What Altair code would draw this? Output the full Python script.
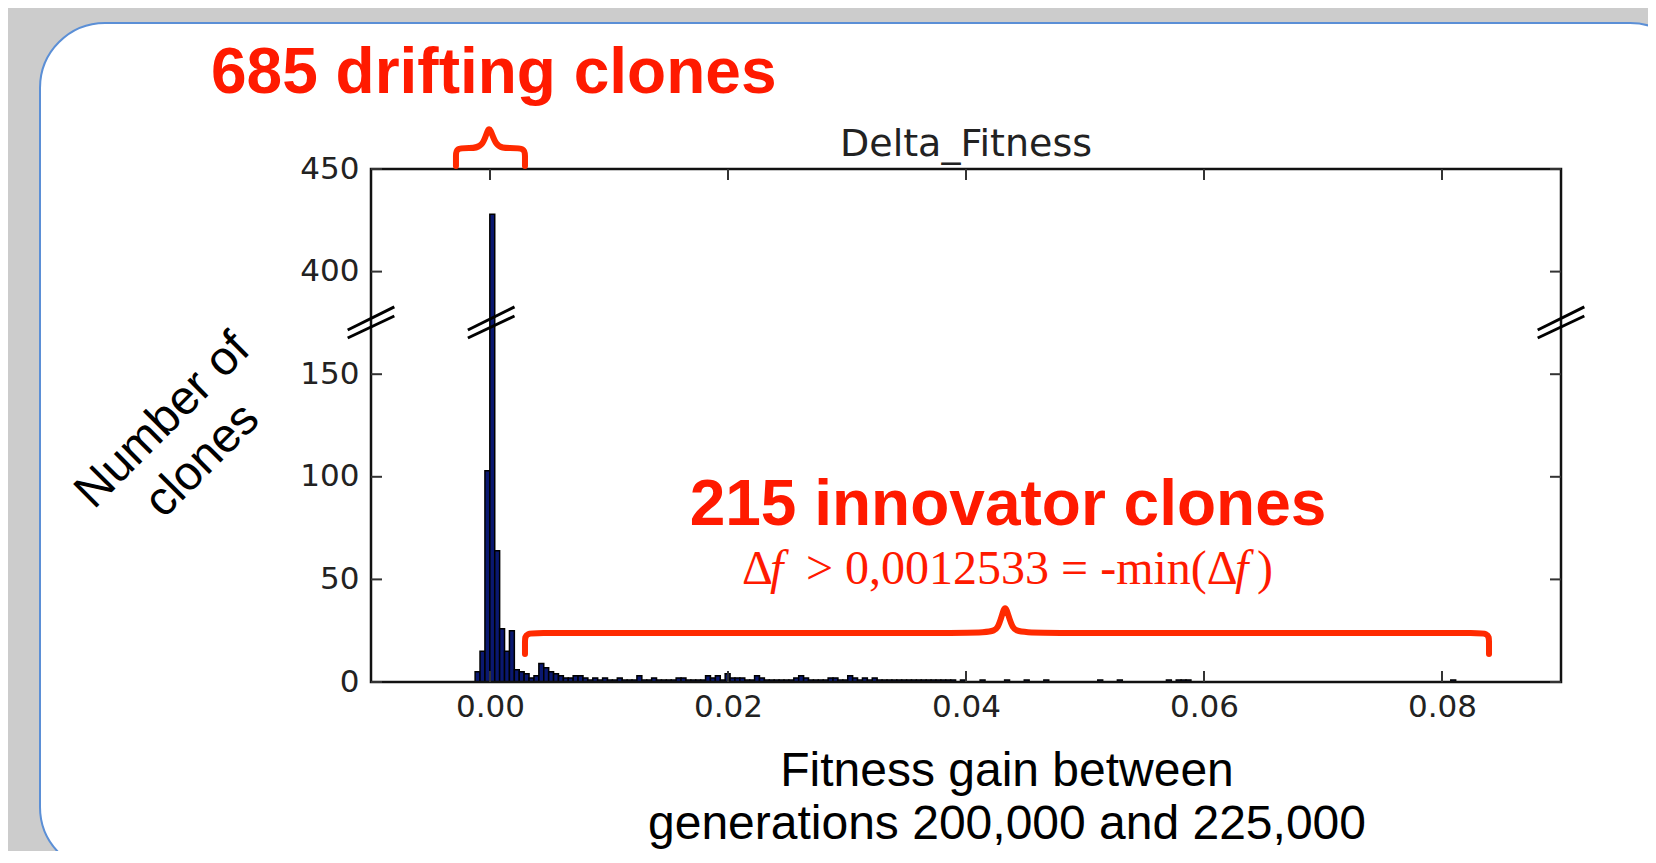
import altair as alt
import pandas as pd

# ---------------- data ----------------
BIN_START = -0.00125      # left edge of first histogram bin (≈ min Δf)
BIN_WIDTH = 0.000412      # histogram bin width
bin_index = [0, 1, 2, 3, 4, 5, 6, 7, 8, 9, 10, 11, 12, 13, 14, 15, 16, 17, 18, 19,
             20, 21, 22, 23, 24, 25, 26, 27, 28, 29, 30, 31, 32, 33, 34, 35, 36, 37, 38, 39,
             40, 41, 42, 43, 44, 45, 46, 47, 48, 49, 50, 51, 52, 53, 54, 55, 56, 57, 58, 59,
             60, 61, 62, 63, 64, 65, 66, 67, 68, 69, 70, 71, 72, 73, 74, 75, 76, 77, 78, 79,
             80, 81, 82, 83, 84, 85, 86, 87, 88, 89, 90, 91, 92, 93, 94, 95, 96, 97, 99, 103,
             108, 112, 116, 127, 131, 141, 143, 144, 145, 199]
bin_count = [5, 15, 103, 428, 64, 26, 15, 25, 6, 5, 4, 2, 3, 9, 7, 5, 4, 3, 2, 2,
             3, 3, 2, 1, 2, 1, 2, 1, 1, 2, 1, 1, 1, 3, 1, 1, 2, 1, 1, 1,
             1, 2, 2, 1, 1, 1, 1, 3, 2, 3, 1, 4, 2, 2, 2, 1, 1, 3, 2, 1,
             1, 1, 1, 1, 1, 2, 3, 2, 1, 1, 1, 1, 2, 2, 1, 1, 3, 2, 1, 2,
             1, 2, 1, 1, 1, 1, 1, 1, 1, 1, 1, 1, 1, 1, 1, 1, 1, 1, 1, 1,
             1, 1, 1, 1, 1, 1, 1, 1, 1, 1]

x_ticks = [0.0, 0.02, 0.04, 0.06, 0.08]
y_ticks = [0, 50, 100, 150, 400, 450]
x_domain = [-0.01, 0.09]
y_domain = [0, 150, 400, 450]          # broken axis: 150..400 compressed

# axis-break "//" marks: centre Δf, and the two strokes' y ends (counts)
break_x = [-0.01, 0.0001, 0.09]
break_half = 0.00196
break_y1 = [257.7, 314.0]
break_y2 = [238.2, 291.8]

# curly braces (control points in data units)
brace_top_x = [-0.00286, -0.00286, -0.00286, -0.0018, -0.0005, -0.00008, 0.0004, 0.0017, 0.00294, 0.00294, 0.00294]
brace_top_y = [451.5, 456.5, 460.2, 460.2, 460.2, 474.0, 460.2, 460.2, 460.2, 456.5, 451.5]
brace_bot_x = [0.00294, 0.00294, 0.00294, 0.0045, 0.0415, 0.0428, 0.04328, 0.0438, 0.0451, 0.0824, 0.08395, 0.08395, 0.08395]
brace_bot_y = [13.6, 20.0, 23.9, 23.9, 23.9, 23.9, 42.0, 23.9, 23.9, 23.9, 23.9, 20.0, 13.6]

# ---------------- layout ----------------
W, H = 1190, 513
UNIT = H / 250.0
y_range = [H, H - 150 * UNIT, H - 200 * UNIT, 0]

xscale = alt.Scale(domain=x_domain, nice=False, zero=False)
yscale = alt.Scale(domain=y_domain, range=y_range, nice=False, zero=False)

RED = "#ff1a00"
BRACE = "#ff2a00"

df_bars = pd.DataFrame({
    "left": [BIN_START + i * BIN_WIDTH for i in bin_index],
    "count": bin_count,
})
df_bars["right"] = df_bars["left"] + BIN_WIDTH

df_xt = pd.DataFrame({"v": x_ticks})
df_yt = pd.DataFrame({"v": y_ticks})
df_one = pd.DataFrame({"a": [0]})

rows = []
for xc in break_x:
    rows.append({"x1": xc - break_half, "x2": xc + break_half, "y1": break_y1[0], "y2": break_y1[1]})
    rows.append({"x1": xc - break_half, "x2": xc + break_half, "y1": break_y2[0], "y2": break_y2[1]})
df_break = pd.DataFrame(rows)

brace_rows = []
for i, (bx, by) in enumerate(zip(brace_top_x, brace_top_y)):
    brace_rows.append({"b": "top", "o": i, "x": bx, "y": by})
for i, (bx, by) in enumerate(zip(brace_bot_x, brace_bot_y)):
    brace_rows.append({"b": "bottom", "o": i, "x": bx, "y": by})
df_brace = pd.DataFrame(brace_rows)

axis_common = dict(ticks=False, domain=False, grid=False, labelFont="DejaVu Sans",
                   labelFontSize=31, labelColor="#222222", zindex=1, labelFlush=False,
                   labelOverlap=False, title=None)
XAXIS = alt.Axis(values=x_ticks, format=".2f", labelPadding=10, **axis_common)
YAXIS = alt.Axis(values=y_ticks, labelPadding=12, **axis_common)


def X(field):
    return alt.X(field, scale=xscale, axis=XAXIS)


def Y(field):
    return alt.Y(field, scale=yscale, axis=YAXIS)


# white slide card
card = alt.Chart(df_one).mark_rect(fill="white", stroke="#5b8fd6", strokeWidth=2,
                                   cornerRadius=65).encode(
    x=alt.value(-331), x2=alt.value(1324), y=alt.value(-146), y2=alt.value(703))

bars = alt.Chart(df_bars).mark_rect(fill="#0a1870", stroke="#000000", strokeWidth=1.5).encode(
    x=X("left:Q"), x2="right:Q", y=Y("count:Q"), y2=alt.datum(0),
)

frame = alt.Chart(df_one).mark_rect(fill="transparent", stroke="#111111", strokeWidth=2.5).encode(
    x=alt.value(0), x2=alt.value(W), y=alt.value(0), y2=alt.value(H))

TL = 11
tick_style = dict(color="#333333", strokeWidth=2)
tick_bottom = alt.Chart(df_xt).mark_rule(**tick_style).encode(
    x=X("v:Q"), y=alt.value(H - TL), y2=alt.value(H))
tick_top = alt.Chart(df_xt).mark_rule(**tick_style).encode(
    x=X("v:Q"), y=alt.value(0), y2=alt.value(TL))
tick_left = alt.Chart(df_yt).mark_rule(**tick_style).encode(
    y=Y("v:Q"), x=alt.value(0), x2=alt.value(TL))
tick_right = alt.Chart(df_yt).mark_rule(**tick_style).encode(
    y=Y("v:Q"), x=alt.value(W - TL), x2=alt.value(W))

breaks = alt.Chart(df_break).mark_rule(color="black", strokeWidth=3).encode(
    x=X("x1:Q"), x2="x2:Q", y=Y("y1:Q"), y2="y2:Q")

braces = alt.Chart(df_brace).mark_line(color=BRACE, strokeWidth=6, interpolate="basis",
                                       strokeCap="round", strokeJoin="round").encode(
    x=X("x:Q"), y=Y("y:Q"), order="o:Q", detail="b:N")


def txt(text, x, y, size, font="Liberation Sans", weight="normal", style="normal",
        color="black", align="left", angle=0, baseline="alphabetic", lineHeight=None):
    kw = dict(font=font, fontSize=size, fontWeight=weight, fontStyle=style, color=color,
              align=align, baseline=baseline)
    if angle:
        kw["angle"] = angle
    if lineHeight:
        kw["lineHeight"] = lineHeight
        kw["lineBreak"] = "\n"
    return alt.Chart(df_one).mark_text(**kw).encode(
        x=alt.value(x), y=alt.value(y), text=alt.value(text))


texts = [
    txt("Delta_Fitness", W / 2, -13, 38, font="DejaVu Sans", color="#222222", align="center"),
    txt("685 drifting clones", -160, -76, 64, weight="bold", color=RED),
    txt("215 innovator clones", 637, 356, 64, weight="bold", color=RED, align="center"),
    txt("Δ", 371, 415, 48, font="Liberation Serif", color=RED),
    txt("f", 399, 415, 48, font="Liberation Serif", style="italic", color=RED),
    txt("> 0,0012533 = -min(Δ", 435, 415, 48, font="Liberation Serif", color=RED),
    txt("f", 864, 415, 48, font="Liberation Serif", style="italic", color=RED),
    txt(")", 886, 415, 48, font="Liberation Serif", color=RED),
    txt("Number of\nclones", -208, 252, 48, align="center", angle=315, baseline="middle",
        lineHeight=56),
    txt("Fitness gain between", 636, 617, 48, align="center"),
    txt("generations 200,000 and 225,000", 636, 670, 48, align="center"),
]

chart = alt.layer(
    card, bars, frame, tick_bottom, tick_top, tick_left, tick_right,
    breaks, braces, *texts
).properties(
    width=W, height=H,
    padding={"left": 363, "top": 161, "right": 87, "bottom": 169},
    autosize=alt.AutoSizeParams(type="none"),
    background="#cccccc",
).configure_view(strokeWidth=0)

chart.save("out.html", embed_options={"renderer": "svg", "actions": False})
